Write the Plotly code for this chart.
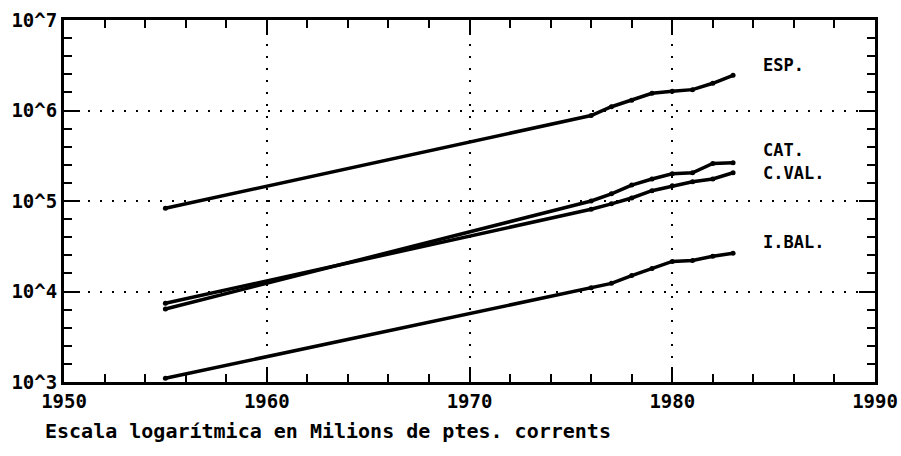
import math
import plotly.graph_objects as go

# ---- data ----
years = [1955, 1976, 1977, 1978, 1979, 1980, 1981, 1982, 1983]
esp = [8.3e4, 8.8e5, 1.1e6, 1.3e6, 1.55e6, 1.63e6, 1.7e6, 2.0e6, 2.45e6]
cat = [6.4e3, 1.0e5, 1.2e5, 1.5e5, 1.75e5, 2.0e5, 2.05e5, 2.6e5, 2.65e5]
cval = [7.4e3, 8.1e4, 9.3e4, 1.08e5, 1.3e5, 1.47e5, 1.63e5, 1.75e5, 2.05e5]
ibal = [1.1e3, 1.1e4, 1.23e4, 1.5e4, 1.8e4, 2.15e4, 2.2e4, 2.45e4, 2.65e4]

series_names = ["ESP.", "CAT.", "C.VAL.", "I.BAL."]
series_values = [esp, cat, cval, ibal]
label_y = [10**6.50, 10**5.56, 10**5.31, 10**4.55]

x_ticks = [1950, 1960, 1970, 1980, 1990]
y_ticks = [1e3, 1e4, 1e5, 1e6, 1e7]
y_ticktext = ["10^3", "10^4", "10^5", "10^6", "10^7"]
y_minor = [10 ** (k + j / 5) for k in range(3, 7) for j in range(1, 5)]

caption = "Escala logarítmica en Milions de ptes. corrents"

FONT = "DejaVu Sans Mono"

fig = go.Figure()
for name, vals in zip(series_names, series_values):
    fig.add_trace(go.Scatter(
        x=years, y=vals, mode="lines+markers", name=name,
        line=dict(color="black", width=3.5),
        marker=dict(color="black", size=5),
        showlegend=False,
    ))

# annotations on a log axis take log10 coordinates
for name, ly in zip(series_names, label_y):
    fig.add_annotation(
        x=1984.4, y=math.log10(ly), yref="y", xref="x", text=name,
        showarrow=False, xanchor="left", yanchor="middle",
        font=dict(family=FONT, size=17, color="black", weight="bold"),
    )

fig.add_annotation(
    x=-0.026, y=-0.135, xref="paper", yref="paper", text=caption,
    showarrow=False, xanchor="left", yanchor="middle",
    font=dict(family=FONT, size=20, color="black", weight="bold"),
)

fig.update_layout(
    width=901, height=456,
    margin=dict(l=64, r=26, t=20, b=74, autoexpand=False),
    paper_bgcolor="white", plot_bgcolor="white",
    font=dict(family=FONT, color="black"),
)

fig.update_xaxes(
    range=[1950, 1990], tickmode="array", tickvals=x_ticks,
    ticktext=[str(v) for v in x_ticks], automargin=False,
    ticks="inside", ticklen=15, tickwidth=2, tickcolor="black",
    showline=True, linewidth=3, linecolor="black", mirror="ticks",
    showgrid=True, gridcolor="black", gridwidth=2, griddash="2px,10px",
    zeroline=False,
    tickfont=dict(family=FONT, size=19, color="black", weight="bold"),
    minor=dict(dtick=2, tick0=1950, ticks="inside", ticklen=8, tickwidth=2,
               tickcolor="black", showgrid=False),
)
fig.update_yaxes(
    type="log", range=[3, 7], tickmode="array", tickvals=y_ticks,
    ticktext=y_ticktext, automargin=False,
    ticks="inside", ticklen=16, tickwidth=2, tickcolor="black",
    showline=True, linewidth=3, linecolor="black", mirror="ticks",
    showgrid=True, gridcolor="black", gridwidth=2, griddash="2px,10px",
    zeroline=False,
    tickfont=dict(family=FONT, size=19, color="black", weight="bold"),
    minor=dict(tickmode="array", tickvals=y_minor, ticks="inside", ticklen=8,
               tickwidth=2, tickcolor="black", showgrid=False),
)

# remove the default page margin so the 901x456 figure fills the window exactly
fig.write_html(
    "out.html",
    config={"displayModeBar": False},
    post_script="document.body.style.margin='0';document.body.style.overflow='hidden';",
)
